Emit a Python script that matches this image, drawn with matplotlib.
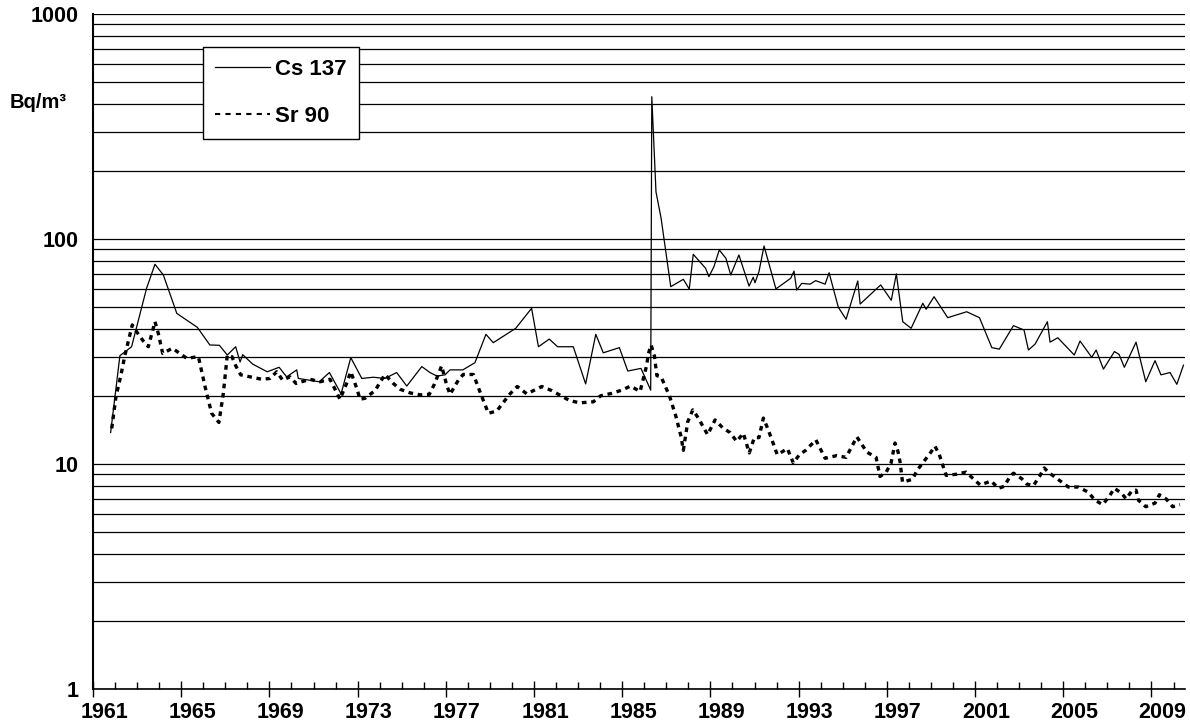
import numpy as np
import matplotlib
matplotlib.use("Agg")
import matplotlib.pyplot as plt
from matplotlib.ticker import FixedLocator, NullFormatter
from matplotlib.transforms import ScaledTranslation

plt.rcParams["font.family"] = ["Liberation Sans", "DejaVu Sans"]
plt.rcParams["font.weight"] = "bold"

# ==================== DATA ====================
cs_year = [1961.8, 1962.22, 1962.75, 1963.43, 1963.81, 1964.19, 1964.8, 1965.73,
           1966.3, 1966.73, 1967.09, 1967.47, 1967.67, 1967.79, 1968.24, 1968.9,
           1969.44, 1969.78, 1970.24, 1970.31, 1971.26, 1971.72, 1972.25, 1972.69,
           1973.19, 1973.71, 1974.24, 1974.77, 1975.23, 1975.91, 1976.28, 1976.59,
           1976.96, 1977.19, 1977.77, 1978.32, 1978.82, 1979.15, 1980.17, 1980.89,
           1981.2, 1981.69, 1982.07, 1982.78, 1983.34, 1983.8, 1984.14, 1984.87,
           1985.25, 1985.85, 1986.29, 1986.34, 1986.53, 1986.76, 1987.2, 1987.77,
           1988.04, 1988.22, 1988.78, 1988.93, 1989.16, 1989.4, 1989.7, 1989.92,
           1990.29, 1990.75, 1990.94, 1991.02, 1991.2, 1991.43, 1991.97, 1992.64,
           1992.79, 1992.91, 1993.14, 1993.52, 1993.77, 1994.2, 1994.38, 1994.8,
           1995.15, 1995.68, 1995.79, 1996.72, 1997.2, 1997.43, 1997.72, 1998.1,
           1998.63, 1998.78, 1999.14, 1999.76, 2000.62, 2001.2, 2001.76, 2002.1,
           2002.74, 2003.22, 2003.42, 2003.72, 2004.28, 2004.4, 2004.75, 2005.5,
           2005.76, 2006.29, 2006.49, 2006.82, 2007.32, 2007.53, 2007.77, 2008.3,
           2008.74, 2009.16, 2009.43, 2009.84, 2010.15, 2010.45]
cs_val = [13.8, 30.3, 33.2, 60.4, 77.2, 69.2, 46.7, 40.5,
          33.8, 33.7, 30.5, 33.2, 28.4, 30.6, 27.8, 25.7,
          26.9, 24.4, 26.2, 24.0, 23.2, 25.5, 20.5, 29.7,
          24.0, 24.3, 24.0, 25.5, 22.2, 27.1, 25.5, 24.6,
          24.9, 26.2, 26.2, 28.2, 37.7, 34.6, 40.1, 49.2,
          33.2, 35.9, 33.2, 33.2, 22.7, 37.7, 31.2, 32.9,
          25.9, 26.6, 21.3, 429, 162, 124, 61.4, 66.2,
          59.9, 85.5, 74.1, 68.0, 75.4, 89.4, 82.1, 69.2,
          84.9, 61.8, 67.6, 63.9, 71.6, 93.1, 60.0, 66.9,
          72.0, 59.3, 63.5, 63.0, 65.3, 63.0, 70.8, 49.7,
          44.0, 65.1, 51.4, 62.5, 53.4, 70.0, 42.9, 40.1,
          51.8, 48.7, 55.4, 44.7, 47.5, 44.7, 32.9, 32.4,
          41.2, 39.4, 32.1, 34.1, 42.9, 34.8, 36.4, 30.5,
          35.2, 29.8, 32.1, 26.4, 31.6, 30.7, 26.9, 34.8,
          23.2, 28.8, 24.9, 25.5, 22.6, 27.5]

sr_year = [1961.85, 1962.04, 1962.25, 1962.45, 1962.78, 1962.98, 1963.28, 1963.51,
           1963.81, 1963.96, 1964.16, 1964.6, 1965.25, 1965.78, 1966.08, 1966.38,
           1966.71, 1966.91, 1967.09, 1967.3, 1967.49, 1967.7, 1968.12, 1968.65,
           1969.03, 1969.33, 1969.6, 1969.93, 1970.21, 1970.84, 1971.3, 1971.75,
           1972.2, 1972.5, 1972.69, 1972.96, 1973.11, 1973.34, 1973.79, 1974.24,
           1974.62, 1974.92, 1975.38, 1975.83, 1976.25, 1976.48, 1976.81, 1977.04,
           1977.19, 1977.57, 1977.79, 1978.25, 1978.6, 1978.93, 1979.31, 1979.91,
           1980.24, 1980.67, 1981.35, 1981.8, 1982.63, 1983.09, 1983.69, 1984.02,
           1984.52, 1984.98, 1985.38, 1985.81, 1986.11, 1986.18, 1986.31, 1986.46,
           1986.57, 1986.76, 1987.14, 1987.44, 1987.67, 1987.77, 1987.97, 1988.2,
           1988.45, 1988.87, 1989.21, 1989.58, 1989.89, 1990.19, 1990.49, 1990.76,
           1990.99, 1991.2, 1991.4, 1991.62, 1992.03, 1992.49, 1992.76, 1993.03,
           1993.32, 1993.78, 1994.2, 1994.73, 1995.15, 1995.64, 1996.09, 1996.51,
           1996.69, 1996.97, 1997.19, 1997.37, 1997.5, 1997.6, 1997.71, 1998.16,
           1998.38, 1998.66, 1999.0, 1999.18, 1999.38, 1999.53, 1999.69, 2000.14,
           2000.59, 2000.92, 2001.23, 2001.73, 2002.06, 2002.31, 2002.59, 2002.74,
           2003.12, 2003.34, 2003.64, 2003.92, 2004.14, 2004.32, 2005.23, 2005.68,
           2006.13, 2006.44, 2006.79, 2007.09, 2007.32, 2007.65, 2007.85, 2008.11,
           2008.3, 2008.41, 2008.74, 2009.16, 2009.36, 2009.66, 2009.96, 2010.29]
sr_val = [14.4, 19.9, 24.4, 30.5, 41.5, 38.7, 35.2, 33.2,
          42.9, 38.1, 31.0, 32.7, 29.5, 30.0, 22.1, 16.8,
          15.3, 20.6, 30.5, 30.0, 27.1, 24.9, 24.4, 23.8,
          24.0, 25.7, 23.6, 24.4, 22.8, 23.8, 23.2, 23.8,
          19.4, 22.8, 25.7, 21.7, 19.4, 19.6, 21.2, 25.0,
          22.8, 21.5, 20.7, 20.3, 20.4, 22.6, 27.3, 22.4,
          20.4, 23.6, 25.0, 25.0, 20.3, 16.8, 17.2, 20.5,
          22.1, 20.5, 22.1, 21.2, 19.1, 18.7, 18.9, 20.1,
          20.6, 21.3, 22.2, 21.0, 27.5, 30.8, 33.8, 30.2,
          24.7, 24.4, 20.1, 16.2, 13.2, 11.5, 15.4, 17.4,
          16.0, 13.5, 15.7, 14.4, 13.8, 12.6, 13.7, 11.2,
          13.1, 13.1, 16.0, 14.2, 11.0, 11.7, 10.1, 11.0,
          11.5, 12.8, 10.6, 10.9, 10.7, 13.2, 11.3, 10.7,
          8.8, 9.2, 10.1, 12.4, 11.4, 10.2, 8.3, 8.55,
          9.4, 10.2, 11.3, 12.0, 11.0, 9.9, 8.9, 9.0,
          9.2, 8.6, 8.07, 8.4, 7.8, 7.95, 8.8, 9.1,
          8.6, 8.15, 8.0, 8.8, 9.6, 9.2, 7.9, 7.9,
          7.5, 6.9, 6.6, 7.2, 7.8, 7.4, 7.0, 7.6,
          7.65, 6.9, 6.46, 6.7, 7.3, 7.0, 6.46, 6.6]

year_labels = list(range(1961, 2010, 4))
y_labels = [1, 10, 100, 1000]

# ==================== FIGURE ====================
W, H, DPI = 1190, 724, 100
fig = plt.figure(figsize=(W / DPI, H / DPI), dpi=DPI)
ax = fig.add_axes([93 / W, 1 - 689 / H, (1185 - 93) / W, (689 - 14) / H])

ax.set_yscale("log")
ax.set_ylim(1, 1000)
ax.set_xlim(1961, 2010.52)

# horizontal grid on every log step
ax.yaxis.set_major_locator(FixedLocator(y_labels))
ax.set_yticklabels([str(v) for v in y_labels])
ax.yaxis.set_minor_locator(FixedLocator([k * 10 ** d for d in range(3) for k in range(2, 10)]))
ax.yaxis.set_minor_formatter(NullFormatter())
ax.grid(True, which="both", axis="y", color="black", linewidth=0.9)
ax.tick_params(axis="y", which="both", length=0, pad=10, labelsize=15.5)

# x ticks: long crossing ticks every 4 years, short inner ticks every year
ax.xaxis.set_major_locator(FixedLocator(year_labels))
ax.set_xticklabels([str(y) for y in year_labels])
ax.xaxis.set_minor_locator(FixedLocator(range(1961, 2011)))
ax.tick_params(axis="x", which="major", direction="inout", length=12, width=1,
               labelsize=15.5, pad=3)
ax.tick_params(axis="x", which="minor", direction="in", length=5, width=1)
# Excel category style: label centred on the year, not on the tick
shift = ScaledTranslation(11 / DPI, 0, fig.dpi_scale_trans)
for lab in ax.get_xticklabels():
    lab.set_transform(lab.get_transform() + shift)

for side in ["top", "right"]:
    ax.spines[side].set_visible(False)
ax.spines["left"].set_linewidth(1.5)
ax.spines["bottom"].set_linewidth(1.2)

# ==================== SERIES ====================
ax.plot(cs_year, cs_val, color="black", linewidth=0.9, label="Cs 137", zorder=3)
ax.plot(sr_year, sr_val, color="black", linewidth=2.4, linestyle=(0, (1.4, 1.4)),
        label="Sr 90", zorder=3)

fig.text(10 / W, 1 - 103 / H, "Bq/m³", fontsize=14.5, fontweight="bold", va="center", ha="left")

leg = ax.legend(loc="upper left", bbox_to_anchor=(203 / W, 1 - 47 / H),
                bbox_transform=fig.transFigure, borderaxespad=0, fancybox=False,
                framealpha=1, edgecolor="black", fontsize=16, labelspacing=1.15,
                handlelength=2.45, handletextpad=0.25, borderpad=0.55)
leg.get_frame().set_linewidth(1.0)
leg.set_zorder(5)
leg.get_lines()[1].set_linewidth(1.5)
leg.get_lines()[1].set_linestyle((0, (2.5, 2.5)))

fig.savefig("out.png", dpi=DPI)
